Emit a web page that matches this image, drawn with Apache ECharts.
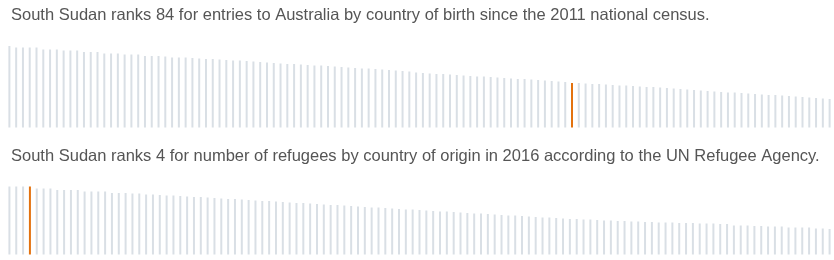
<!DOCTYPE html>
<html><head><meta charset="utf-8">
<script src="https://cdn.jsdelivr.net/npm/echarts@6/dist/echarts.min.js"></script>
<style>html,body{margin:0;padding:0;background:#fff}#c{width:834px;height:260px}</style>
</head><body><div id="c"></div>
<script>
const titleTop = "South Sudan ranks 84 for entries to Australia by country of birth since the 2011 national census.";
const titleBottom = "South Sudan ranks 4 for number of refugees by country of origin in 2016 according to the UN Refugee Agency.";
const highlightTop = 83;     // rank 84
const highlightBottom = 3;   // rank 4
const entriesValues = [
 81.5, 80, 80, 80, 80, 78, 78, 78, 77, 77, 77, 75.5, 75.5, 75.5, 74, 74, 74, 73, 73, 73, 71.5,
 71.5, 71.5, 71, 70, 70, 70, 69.5, 69, 68.5, 68.5, 68, 67.5, 67, 67, 66.5, 66, 65.5, 65, 64.5, 64, 63.5,
 63.5, 63, 62.5, 62, 62, 61.5, 61, 60.5, 60, 59.5, 59, 59, 58.5, 58, 57.5, 57, 56.5, 56, 55, 54.5, 54,
 53.5, 53.5, 53, 52.5, 52, 51.5, 51, 51, 50.5, 50, 49.5, 49, 48.5, 48.5, 48, 47.5, 47, 46.5, 46, 45.5, 44.5,
 44.5, 44, 43.5, 43.5, 43, 42.5, 42, 42, 41.5, 41, 40.5, 40.5, 40, 39.5, 39, 38.5, 38, 37.5, 37, 36.5, 36,
 35.5, 35, 35, 34.5, 34, 33.5, 33, 32.5, 32.5, 32, 31.5, 31, 30.5, 30, 29.5, 29, 28.5
];
const refugeeValues = [
 68, 68, 68, 68, 66, 66, 66, 64.5, 64.5, 64.5, 64.5, 63, 63, 63, 63, 61.5, 61.5, 61.5, 61, 61, 60,
 60, 59.5, 59, 59, 58.5, 58, 57.5, 57.5, 57, 56.5, 56, 55.5, 55.5, 55, 54.5, 54, 53.5, 53.5, 53, 52.5,
 52, 51.5, 51.5, 51, 50.5, 50, 49.5, 49.5, 49, 48.5, 48, 47.5, 47, 47, 46.5, 46, 45.5, 45, 45, 44.5,
 44, 43.5, 43, 43, 42.5, 42, 41.5, 41, 41, 40.5, 40, 39.5, 39, 39, 38.5, 38, 37.5, 37, 37, 36.5,
 36, 35.5, 35.5, 35, 35, 34.5, 34, 34, 33.5, 33.5, 33, 33, 32.5, 32.5, 32, 32, 32, 31.5, 31.5, 31.5,
 31, 31, 31, 30.5, 30.5, 29, 29, 29, 28.5, 28.5, 28, 28, 28, 27, 27, 27, 27, 26, 26, 25.5
];
const GREY = '#d9dfe5', ORANGE = '#e3720f';
function toData(vals, hi) {
  return vals.map((v, i) => ({ value: v, itemStyle: { color: i === hi ? ORANGE : GREY } }));
}
const chart = echarts.init(document.getElementById('c'), null, { renderer: 'canvas' });
const txt = { fontFamily: 'Liberation Sans, Arial, sans-serif', fontSize: 16.5, fontWeight: 'normal', color: '#555' };
chart.setOption({
  animation: false,
  title: [
    { text: titleTop, left: 6, top: 2, textStyle: txt },
    { text: titleBottom, left: 6, top: 143, textStyle: txt }
  ],
  grid: [
    { left: 6, right: 1, top: 46, height: 81.5 },
    { left: 6, right: 1, top: 186.5, height: 68 }
  ],
  xAxis: [
    { type: 'category', gridIndex: 0, data: entriesValues.map((_, i) => i + 1), show: false },
    { type: 'category', gridIndex: 1, data: refugeeValues.map((_, i) => i + 1), show: false }
  ],
  yAxis: [
    { type: 'value', gridIndex: 0, min: 0, max: 81.5, show: false },
    { type: 'value', gridIndex: 1, min: 0, max: 68, show: false }
  ],
  series: [
    { type: 'bar', xAxisIndex: 0, yAxisIndex: 0, barWidth: 2, data: toData(entriesValues, highlightTop) },
    { type: 'bar', xAxisIndex: 1, yAxisIndex: 1, barWidth: 2, data: toData(refugeeValues, highlightBottom) }
  ]
});
</script></body></html>
